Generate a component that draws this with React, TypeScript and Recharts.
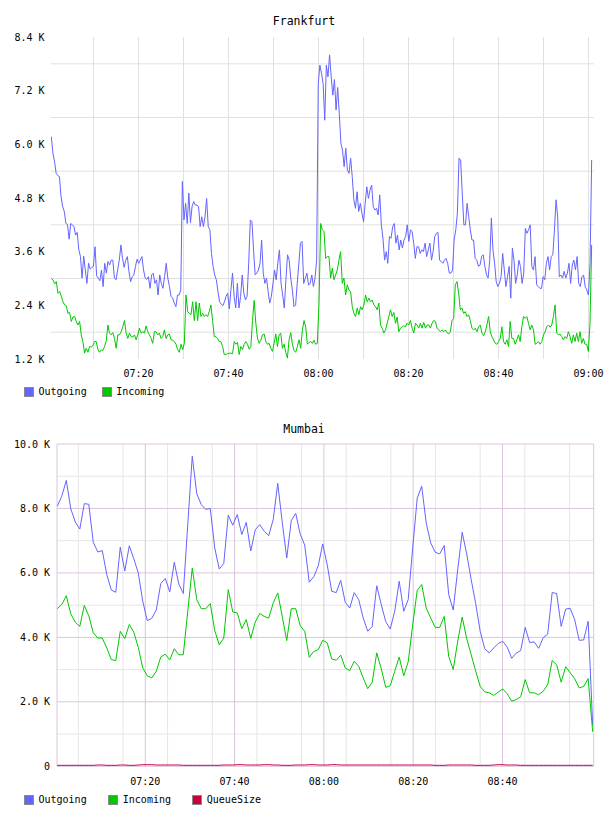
import { CartesianGrid, Line, LineChart, XAxis, YAxis } from "recharts"

const FONT = '"DejaVu Sans Mono", monospace'

// Frankfurt traffic, bytes/s, sampled evenly from ~07:00:38 to ~09:00:42
const frankfurtOutgoing = [
  6170, 5800, 5610, 5350, 5300, 5280, 4830, 4610, 4500, 4230,
  4210, 3880, 4230, 4200, 4160, 3970, 4030, 3640, 3490, 3010,
  3500, 3190, 2890, 3340, 3210, 3250, 3270, 3710, 3060, 3010,
  2950, 3190, 2820, 3340, 3120, 3380, 3300, 3410, 3410, 3010,
  2970, 3190, 3410, 3750, 3450, 3250, 3410, 3490, 3150, 2930,
  3040, 3080, 3270, 3430, 3340, 3410, 3490, 3190, 3010, 2980,
  3040, 2780, 3080, 3120, 2890, 2970, 2630, 3080, 2890, 2780,
  3040, 3340, 3010, 2820, 2600, 2560, 2450, 2370, 2630, 2630,
  2740, 5170, 4310, 4680, 4230, 4910, 4250, 4610, 4720, 4640,
  4640, 4610, 4160, 4380, 4160, 4380, 4790, 4160, 4090, 3560,
  3270, 3080, 2970, 2710, 2480, 2430, 2390, 2480, 2600, 2670,
  2320, 2740, 3120, 2600, 2340, 2890, 2340, 2600, 3080, 2670,
  2520, 2600, 3340, 4310, 4270, 3640, 3080, 3120, 3190, 3340,
  3860, 3120, 2890, 3010, 2710, 2450, 2600, 2890, 3190, 2970,
  3340, 3640, 2890, 2630, 2340, 2970, 3530, 3410, 3010, 2740,
  2370, 2410, 2890, 3340, 3790, 3830, 2890, 3010, 3120, 2850,
  2890, 3080, 2820, 3010, 3410,
  7360, 7770, 7590, 7360, 6540, 7770, 7510, 8000, 7510, 7100,
  7450, 6770, 7270, 6690, 6020, 5870, 5500, 5910, 5430, 5350,
  5690, 5280, 4760, 4570, 4940, 4500, 4680, 4460, 4270, 4680,
  5050, 4790, 4980, 5090, 4610, 4530, 4570, 4420, 4870, 4200,
  3900, 3410, 3600, 3340, 3940, 3900, 4160, 4230, 3790, 3970,
  3640, 3860, 3680, 3860, 3940, 4200, 3830, 4090, 4050, 3790,
  3450, 3710, 3710, 3560, 3640, 3600, 3790, 3490, 3640, 3790,
  3410, 3600, 3940, 4010, 4030, 3410, 3380, 3340, 3410, 3450,
  3340, 3120, 3120, 3190, 3860, 4090, 4460, 5690, 5650, 4910,
  4200, 4200, 4680, 4380, 4090, 3860, 3860, 3450, 3410, 3270,
  3300, 3490, 3530, 3270, 3080, 3010, 3410, 4350, 3640, 3340,
  2930, 2820, 2890, 3040, 3560, 3190, 2820, 3040, 3270, 2560,
  3680, 3410, 2890, 3080, 3410, 3270, 2890, 3120, 4120, 4010,
  4090, 4200, 3270, 3190, 3490, 2860, 2820, 2780, 2780, 3040,
  2970, 3340, 3490, 3190, 3490, 3530, 4090, 4760, 4380, 3040,
  3080, 3010, 3160, 3010, 3120, 3340, 2890, 3300, 3410, 3190,
  3490, 2890, 2820, 3040, 3080, 2820, 2740, 2630, 3340, 5650,
]

const frankfurtIncoming = [
  3000, 2970, 2880, 2930, 2670, 2710, 2600, 2480, 2410, 2390,
  2220, 2240, 2040, 2140, 2150, 2040, 1960, 2040, 1740, 1590,
  1330, 1440, 1350, 1480, 1470, 1500, 1590, 1590, 1420, 1350,
  1400, 1390, 1480, 1590, 1960, 1780, 1740, 1790, 1660, 1440,
  1740, 1740, 1810, 1920, 2060, 1780, 1660, 1780, 1700, 1690,
  1740, 1630, 1740, 1890, 1780, 1810, 1780, 1940, 1810, 1740,
  1660, 1550, 1810, 1810, 1740, 1780, 1660, 1700, 1850, 1660,
  1740, 1760, 1630, 1620, 1590, 1530, 1410, 1350, 1530, 1410,
  1550, 2630, 2260, 2220, 2190, 2480, 2060, 2480, 2060, 2450,
  2150, 2220, 2150, 2190, 2150, 2260, 2410, 2060, 1700, 1700,
  1660, 1590, 1590, 1480, 1300, 1300, 1320, 1330, 1330, 1320,
  1590, 1530, 1570, 1300, 1480, 1410, 1530, 1590, 1530, 1420,
  1480, 2060, 2510, 2000, 1660, 1550, 1620, 1740, 1760, 1590,
  1530, 1550, 1440, 1370, 1550, 1760, 1480, 1740, 1780, 1440,
  1530, 1350, 1220, 1630, 1790, 1530, 1390, 1350, 1480, 1630,
  1440, 1850, 2060, 1920, 1530, 1570, 1590, 1550, 1620, 1530,
  1550, 2450,
  4230, 4090, 4050, 3450, 3490, 3490, 3010, 3230, 2970, 3080,
  3190, 3410, 3600, 2890, 3010, 2630, 2860, 2740, 2710, 2370,
  2220, 2150, 2340, 2190, 2370, 2300, 2410, 2630, 2480, 2560,
  2480, 2520, 2410, 2370, 2300, 2450, 1960, 1890, 1780, 1850,
  2000, 2150, 2300, 2150, 2240, 2000, 2140, 1810, 1890, 1920,
  1940, 1920, 2000, 1960, 2060, 1890, 1780, 2000, 1960, 1890,
  2000, 1890, 2020, 1890, 1960, 1960, 1890, 2000, 2060, 2040,
  1890, 1850, 1810, 1850, 1810, 1850, 1790, 1760, 1810, 2060,
  2110, 2860, 2930, 2670, 2300, 2340, 2220, 2260, 2150, 2190,
  2060, 1890, 1850, 1890, 1810, 1920, 1960, 1780, 1720, 1810,
  1960, 2150, 1810, 1700, 1630, 1550, 1530, 1590, 1660, 1920,
  1590, 1530, 1630, 1480, 2040, 1660, 1660, 1530, 1630, 1740,
  1590, 1920, 2150, 2110, 2150, 2000, 1850, 1960, 1850, 1530,
  1550, 1590, 1530, 1590, 1740, 1810, 1920, 1960, 1910, 1960,
  2150, 2410, 1780, 1740, 1760, 1700, 1630, 1700, 1660, 1810,
  1700, 1550, 1740, 1590, 1780, 1590, 1810, 1550, 1660, 1530,
  1530, 1370, 2000, 3750,
]

// minutes after 07:00
const frankfurtFirst = 0.63
const frankfurtLast = 120.7

// Mumbai traffic, one sample a minute
const mumbaiOutgoing = [
  8070, 8380, 8870, 7990, 7580, 7360, 8150, 8130, 6950, 6650,
  6690, 5950, 5470, 5400, 6800, 6060, 6840, 6440, 6000, 5120,
  4520, 4590, 4850, 5670, 5830, 5410, 6330, 5660, 5360, 7500,
  9620, 8460, 8120, 7970, 8000, 6770, 6120, 6290, 7790, 7480,
  7810, 7190, 7570, 6680, 7340, 7500, 7290, 7160, 7660, 8780,
  7570, 6460, 7620, 7850, 7200, 6860, 5710, 5880, 6220, 6900,
  6250, 5430, 5390, 5770, 5090, 4910, 5390, 5170, 4600, 4190,
  4340, 5600, 5020, 4490, 4260, 4810, 5740, 4810, 5170, 6770,
  8320, 8690, 7550, 6930, 6640, 6590, 6850, 5330, 4850, 6100,
  7260, 6590, 5790, 5050, 4190, 3650, 3520, 3670, 3810, 3880,
  3700, 3350, 3510, 3590, 4310, 3840, 3860, 3660, 3990, 4100,
  5390, 5360, 4340, 4880, 4900, 4550, 3910, 3920, 4500, 1270,
]

const mumbaiIncoming = [
  4890, 5020, 5290, 4730, 4470, 4340, 4990, 4670, 4140, 3980,
  3980, 3670, 3310, 3280, 4190, 3960, 4400, 4160, 3690, 3050,
  2810, 2740, 2950, 3390, 3480, 3300, 3650, 3460, 3460, 4810,
  6150, 5170, 4890, 4890, 5050, 4210, 3770, 3980, 5480, 4790,
  4760, 4270, 4550, 3970, 4480, 4740, 4650, 4600, 5070, 5380,
  4650, 3900, 4890, 4890, 4360, 4190, 3380, 3560, 3620, 3910,
  3830, 3330, 3290, 3450, 3050, 2970, 3260, 3100, 2740, 2410,
  2610, 3520, 3030, 2450, 2500, 2950, 3390, 2810, 3240, 4390,
  5460, 5640, 4910, 4600, 4310, 4310, 4650, 3410, 3000, 3880,
  4630, 3960, 3460, 2950, 2480, 2310, 2280, 2200, 2300, 2400,
  2250, 2020, 2070, 2160, 2690, 2280, 2280, 2220, 2330, 2530,
  3280, 3150, 2610, 3090, 2900, 2720, 2430, 2480, 2720, 1070,
]

const mumbaiQueue = [
  30, 30, 30, 30, 30, 30, 30, 30, 30, 40,
  40, 30, 30, 30, 40, 40, 30, 30, 40, 50,
  50, 50, 40, 40, 40, 40, 40, 40, 30, 30,
  30, 30, 30, 30, 30, 30, 30, 40, 40, 40,
  50, 50, 40, 40, 40, 40, 50, 50, 40, 40,
  30, 30, 30, 40, 40, 40, 50, 50, 40, 40,
  40, 50, 50, 40, 40, 40, 40, 40, 40, 40,
  40, 40, 40, 40, 40, 40, 40, 40, 40, 40,
  40, 40, 40, 40, 30, 30, 30, 40, 40, 40,
  40, 40, 40, 30, 30, 30, 30, 40, 50, 50,
  40, 40, 40, 30, 30, 30, 30, 30, 30, 30,
  30, 30, 30, 30, 30, 30, 30, 30, 30, 30,
]

const mumbaiFirst = 0.29
const mumbaiLast = 120.2

const frankfurtValueTicks = [1200, 2400, 3600, 4800, 6000, 7200, 8400]
const mumbaiValueTicks = [0, 2000, 4000, 6000, 8000, 10000]
const frankfurtTimeTicks = [20, 40, 60, 80, 100, 120]
const mumbaiTimeTicks = [20, 40, 60, 80, 100]

const OUT = "#6464ff"
const IN = "#00c800"
const QUEUE = "#c8003c"

// pair evenly spaced sample times with values
function spread(values: number[], first: number, last: number) {
  const step = (last - first) / (values.length - 1)
  return values.map((v, i) => ({ t: first + i * step, v }))
}

const pad = (n: number) => String(n).padStart(2, "0")
const clock = (m: number) => {
  const total = 7 * 60 + Math.round(m)
  return `${pad(Math.floor(total / 60))}:${pad(total % 60)}`
}
const kilo = (v: number) => (v === 0 ? "0" : `${(v / 1000).toFixed(1)} K`)

const fiveMinutes = Array.from({ length: 24 }, (_, i) => (i + 1) * 5)

const tickStyle = { fontSize: 10, fill: "#000", fontFamily: FONT }

function Title({ text, top }: { text: string; top: number }) {
  return (
    <div style={{ position: "absolute", left: 0, top, width: 608, textAlign: "center", fontFamily: FONT, fontSize: 11.5, lineHeight: "14px", color: "#000" }}>
      {text}
    </div>
  )
}

function Key({ left, top, color, label }: { left: number; top: number; color: string; label: string }) {
  return (
    <>
      <div style={{ position: "absolute", left, top, width: 8, height: 8, background: color, border: "1px solid #8a8a8a" }} />
      <div style={{ position: "absolute", left: left + 14.5, top: top - 1, fontFamily: FONT, fontSize: 10, lineHeight: "12px", color: "#000" }}>{label}</div>
    </>
  )
}

function FrankfurtChart() {
  return (
    <LineChart width={608} height={380} margin={{ top: 37, right: 14, bottom: 0, left: 0 }}>
      <CartesianGrid stroke="#e0e0e0" horizontalValues={[1800, 3000, 4200, 5400, 6600, 7800]} verticalValues={fiveMinutes} />
      <XAxis type="number" dataKey="t" domain={[0.556, 121.22]} ticks={frankfurtTimeTicks} tickFormatter={clock} allowDataOverflow axisLine={false} tickLine={false} tickSize={0} tickMargin={10.8} height={21} tick={tickStyle} />
      <YAxis type="number" domain={[1200, 8400]} ticks={frankfurtValueTicks} tickFormatter={kilo} allowDataOverflow axisLine={false} tickLine={false} tickSize={0} tickMargin={6.5} width={51} tick={tickStyle} />
      <Line data={spread(frankfurtOutgoing, frankfurtFirst, frankfurtLast)} dataKey="v" type="linear" stroke={OUT} strokeWidth={1} dot={false} activeDot={false} isAnimationActive={false} />
      <Line data={spread(frankfurtIncoming, frankfurtFirst, frankfurtLast)} dataKey="v" type="linear" stroke={IN} strokeWidth={1} dot={false} activeDot={false} isAnimationActive={false} />
    </LineChart>
  )
}

function MumbaiChart() {
  return (
    <LineChart width={608} height={390} margin={{ top: 44, right: 14.3, bottom: 0, left: 0 }}>
      <CartesianGrid stroke="#e6e6e6" horizontalValues={[1000, 3000, 5000, 7000, 9000]} verticalValues={fiveMinutes.filter((m) => m % 20 !== 0)} />
      <CartesianGrid stroke="#dcc4dc" horizontalValues={[0, 2000, 4000, 6000, 8000, 10000]} verticalValues={[0.224, 20, 40, 60, 80, 100, 120.43]} />
      <XAxis type="number" dataKey="t" domain={[0.224, 120.43]} ticks={mumbaiTimeTicks} tickFormatter={clock} allowDataOverflow axisLine={false} tickLine={false} tickSize={0} tickMargin={11.9} height={23.7} tick={tickStyle} />
      <YAxis type="number" domain={[0, 10000]} ticks={mumbaiValueTicks} tickFormatter={kilo} allowDataOverflow axisLine={false} tickLine={false} tickSize={0} tickMargin={7} width={57} tick={tickStyle} />
      <Line data={spread(mumbaiOutgoing, mumbaiFirst, mumbaiLast)} dataKey="v" type="linear" stroke={OUT} strokeWidth={1} dot={false} activeDot={false} isAnimationActive={false} />
      <Line data={spread(mumbaiIncoming, mumbaiFirst, mumbaiLast)} dataKey="v" type="linear" stroke={IN} strokeWidth={1} dot={false} activeDot={false} isAnimationActive={false} />
      <Line data={spread(mumbaiQueue, mumbaiFirst, mumbaiLast)} dataKey="v" type="linear" stroke={QUEUE} strokeWidth={1} dot={false} activeDot={false} isAnimationActive={false} />
    </LineChart>
  )
}

export default function App() {
  return (
    <div style={{ position: "absolute", left: 0, top: 0, width: 608, height: 816, background: "#fff" }}>
      <Title text="Frankfurt" top={13.7} />
      <div style={{ position: "absolute", left: 0, top: 0 }}>
        <FrankfurtChart />
      </div>
      <Key left={24} top={387} color={OUT} label="Outgoing" />
      <Key left={101.7} top={387} color={IN} label="Incoming" />

      <Title text="Mumbai" top={422} />
      <div style={{ position: "absolute", left: 0, top: 400 }}>
        <MumbaiChart />
      </div>
      <Key left={24} top={795} color={OUT} label="Outgoing" />
      <Key left={108.3} top={795} color={IN} label="Incoming" />
      <Key left={192.3} top={795} color={QUEUE} label="QueueSize" />
    </div>
  )
}
